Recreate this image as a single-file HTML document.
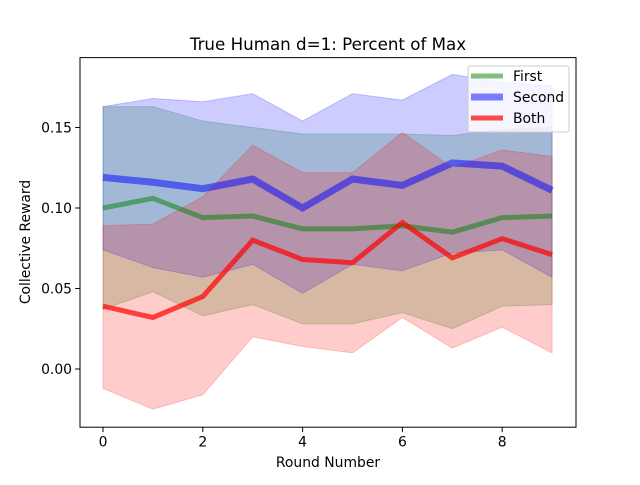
<!DOCTYPE html>
<html><head><meta charset="utf-8"><style>
body{margin:0;background:#fff}
svg{font-family:"DejaVu Sans","Liberation Sans",sans-serif}
</style></head><body>
<svg id="c" width="640" height="480">
<rect x="0" y="0" width="640" height="480" fill="#fff"/>
<g id="bands"></g><g id="lines"></g><g id="axes"></g>
</svg>
<script>
const rounds=[0,1,2,3,4,5,6,7,8,9];
const firstMean=[0.100,0.106,0.094,0.095,0.087,0.087,0.089,0.085,0.094,0.095];
const firstHi=[0.163,0.163,0.154,0.150,0.146,0.146,0.146,0.145,0.149,0.150];
const firstLo=[0.037,0.048,0.033,0.040,0.028,0.028,0.035,0.025,0.039,0.040];
const secondMean=[0.119,0.116,0.112,0.118,0.100,0.118,0.114,0.128,0.126,0.111];
const secondHi=[0.163,0.168,0.166,0.171,0.154,0.171,0.167,0.183,0.178,0.176];
const secondLo=[0.074,0.063,0.057,0.065,0.047,0.065,0.061,0.072,0.074,0.057];
const bothMean=[0.039,0.032,0.045,0.080,0.068,0.066,0.091,0.069,0.081,0.071];
const bothHi=[0.089,0.090,0.107,0.139,0.122,0.122,0.147,0.125,0.136,0.132];
const bothLo=[-0.012,-0.025,-0.016,0.020,0.014,0.010,0.032,0.013,0.026,0.010];
const xTicks=[0,2,4,6,8];
const yTicks=[0.00,0.05,0.10,0.15];
const yLabels=["0.00","0.05","0.10","0.15"];

const L=80,R=576,T=57.6,B=427.2;
const X=v=>103+v*49.9;
const Y=v=>369-v*1610;
const NS="http://www.w3.org/2000/svg";
function mk(tag,attrs,parent){const e=document.createElementNS(NS,tag);for(const k in attrs)e.setAttribute(k,attrs[k]);parent.appendChild(e);return e;}
const bands=document.getElementById('bands'),lines=document.getElementById('lines'),axes=document.getElementById('axes');
const series=[
 {n:'first',m:firstMean,h:firstHi,l:firstLo,c:'#008000',a:0.5,w:5},
 {n:'second',m:secondMean,h:secondHi,l:secondLo,c:'#0000ff',a:0.5,w:7},
 {n:'both',m:bothMean,h:bothHi,l:bothLo,c:'#ff0000',a:0.7,w:5}];
series.forEach(s=>{
 let pts=rounds.map((r,i)=>X(r)+','+Y(s.h[i]));
 for(let i=rounds.length-1;i>=0;i--)pts.push(X(rounds[i])+','+Y(s.l[i]));
 const p=mk('polygon',{points:pts.join(' '),fill:s.c,'fill-opacity':0.2,stroke:s.c,'stroke-opacity':0.2},bands);
 
 
});
series.forEach(s=>{
 const p=mk('polyline',{points:rounds.map((r,i)=>X(r)+','+Y(s.m[i])).join(' '),fill:'none',stroke:s.c,'stroke-opacity':s.a,'stroke-width':s.w},lines);
 
 
});
const fr=mk('rect',{x:L,y:T,width:R-L,height:B-T,fill:'none',stroke:'#000','stroke-width':1},axes);


xTicks.forEach(t=>{
 mk('line',{x1:X(t),x2:X(t),y1:B,y2:B+4.9,stroke:'#000'},axes);
 const tx=mk('text',{x:X(t),y:B+19.5,'text-anchor':'middle','font-size':13.9},axes);tx.textContent=t;
 
 
});
yTicks.forEach((t,i)=>{
 mk('line',{x1:L-4.9,x2:L,y1:Y(t),y2:Y(t),stroke:'#000'},axes);
 const tx=mk('text',{x:L-8,y:Y(t)+5,'text-anchor':'end','font-size':13.9},axes);tx.textContent=yLabels[i];
 
 
});
</script>
<svg width="640" height="480" style="position:absolute;left:0;top:0;font-family:'DejaVu Sans',sans-serif">
<text x="328" y="50" text-anchor="middle" font-size="16.7">True Human d=1: Percent of Max</text>
<text x="328" y="467" text-anchor="middle" font-size="13.9">Round Number</text>
<text transform="translate(30,242) rotate(-90)" text-anchor="middle" font-size="13.9">Collective Reward</text>
<g font-size="13.9">
<rect x="468" y="66" width="101" height="66" rx="2" fill="#fff" fill-opacity="0.8" stroke="#ccc"/>
<line x1="471" x2="503" y1="76" y2="76" stroke="#008000" stroke-opacity="0.5" stroke-width="5"/>
<text x="513" y="81">First</text>
<line x1="471" x2="503" y1="97" y2="97" stroke="#0000ff" stroke-opacity="0.5" stroke-width="7"/>
<text x="513" y="102">Second</text>
<line x1="471" x2="503" y1="118" y2="118" stroke="#ff0000" stroke-opacity="0.7" stroke-width="5"/>
<text x="513" y="123">Both</text>
</g>
</svg>
</body></html>
